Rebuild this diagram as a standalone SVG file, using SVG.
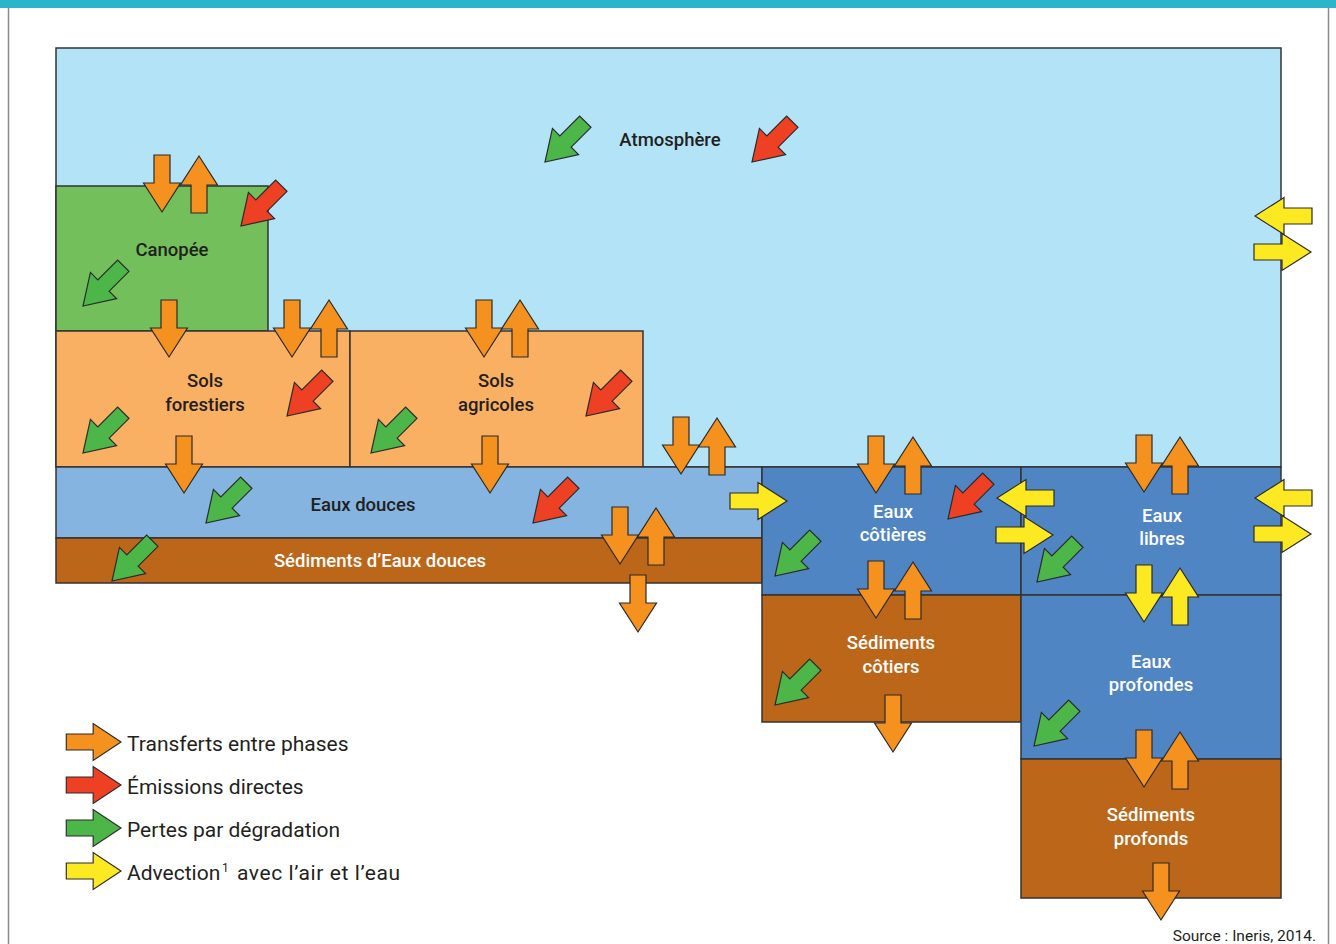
<svg xmlns="http://www.w3.org/2000/svg" xmlns:xlink="http://www.w3.org/1999/xlink" width="1336" height="944" viewBox="0 0 1336 944">
<style>
.box{stroke:#333;stroke-width:1.5}
.atm{fill:#b3e3f7}
.can{fill:#72bf5b}
.sol{fill:#f9b062}
.ed{fill:#84b4df}
.sed{fill:#bc6619}
.mer{fill:#5085c3}
.o{fill:#f5911e}
.r{fill:#ee4023}
.g{fill:#4cb748}
.y{fill:#fce921}
use{stroke:#2b2b2b;stroke-width:1.2;stroke-linejoin:miter}
.lbl{font-family:Roboto,"Liberation Sans",sans-serif;font-weight:500;font-size:18.5px;text-anchor:middle;fill:#231f20}
.w{fill:#ffffff}
.leg{font-family:Roboto,"Liberation Sans",sans-serif;font-size:21px;fill:#231f20}
.src{font-family:Roboto,"Liberation Sans",sans-serif;font-size:15.5px;fill:#231f20;text-anchor:end}
</style>
<defs>
<path id="a" d="M-57,-8H-29V-18.5L0,0L-29,18.5V8H-57Z"/>
</defs>
<rect x="0" y="0" width="1336" height="944" fill="#ffffff"/>
<rect x="0" y="0" width="1336" height="8" fill="#2bb5c9"/>
<line x1="8.5" y1="8" x2="8.5" y2="944" stroke="#8a8a8a" stroke-width="1.5"/>
<line x1="1328.5" y1="8" x2="1328.5" y2="944" stroke="#8a8a8a" stroke-width="1.5"/>

<g id="atmosphere"><rect class="box atm" x="56" y="48" width="1225" height="419"/><text class="lbl" x="670" y="146">Atmosphère</text></g>
<g id="canopee"><rect class="box can" x="56" y="186" width="212" height="145"/><text class="lbl" x="172" y="256">Canopée</text></g>
<g id="sols-forestiers"><rect class="box sol" x="56" y="331" width="294" height="136"/><text class="lbl" x="205" y="387">Sols</text><text class="lbl" x="205" y="411">forestiers</text></g>
<g id="sols-agricoles"><rect class="box sol" x="350" y="331" width="293" height="136"/><text class="lbl" x="496" y="387">Sols</text><text class="lbl" x="496" y="411">agricoles</text></g>
<g id="eaux-douces"><rect class="box ed" x="56" y="467" width="706" height="71"/><text class="lbl" x="363" y="511">Eaux douces</text></g>
<g id="sediments-eaux-douces"><rect class="box sed" x="56" y="538" width="706" height="45"/><text class="lbl w" x="380" y="567">Sédiments d’Eaux douces</text></g>
<g id="eaux-cotieres"><rect class="box mer" x="762" y="467" width="259" height="128"/><text class="lbl w" x="893" y="518">Eaux</text><text class="lbl w" x="893" y="541">côtières</text></g>
<g id="sediments-cotiers"><rect class="box sed" x="762" y="595" width="259" height="127"/><text class="lbl w" x="891" y="649">Sédiments</text><text class="lbl w" x="891" y="673">côtiers</text></g>
<g id="eaux-libres"><rect class="box mer" x="1021" y="467" width="260" height="128"/><text class="lbl w" x="1162" y="522">Eaux</text><text class="lbl w" x="1162" y="545">libres</text></g>
<g id="eaux-profondes"><rect class="box mer" x="1021" y="595" width="260" height="164"/><text class="lbl w" x="1151" y="668">Eaux</text><text class="lbl w" x="1151" y="691">profondes</text></g>
<g id="sediments-profonds"><rect class="box sed" x="1021" y="759" width="260" height="139"/><text class="lbl w" x="1151" y="821">Sédiments</text><text class="lbl w" x="1151" y="845">profonds</text></g>

<g id="connectors">
<use href="#a" class="g" transform="translate(545,162) rotate(135)"/>
<use href="#a" class="r" transform="translate(752,162) rotate(135)"/>
<use href="#a" class="o" transform="translate(162,212) rotate(90)"/>
<use href="#a" class="o" transform="translate(199,156) rotate(-90)"/>
<use href="#a" class="r" transform="translate(241,226) rotate(135)"/>
<use href="#a" class="g" transform="translate(83,306) rotate(135)"/>
<use href="#a" class="o" transform="translate(169,357) rotate(90)"/>
<use href="#a" class="o" transform="translate(292,357) rotate(90)"/>
<use href="#a" class="o" transform="translate(329,300) rotate(-90)"/>
<use href="#a" class="r" transform="translate(287,416) rotate(135)"/>
<use href="#a" class="g" transform="translate(83,453) rotate(135)"/>
<use href="#a" class="o" transform="translate(184,493) rotate(90)"/>
<use href="#a" class="o" transform="translate(484,357) rotate(90)"/>
<use href="#a" class="o" transform="translate(520,300) rotate(-90)"/>
<use href="#a" class="r" transform="translate(586,416) rotate(135)"/>
<use href="#a" class="g" transform="translate(371,453) rotate(135)"/>
<use href="#a" class="o" transform="translate(490,493) rotate(90)"/>
<use href="#a" class="o" transform="translate(681,474) rotate(90)"/>
<use href="#a" class="o" transform="translate(717,418) rotate(-90)"/>
<use href="#a" class="g" transform="translate(206,523) rotate(135)"/>
<use href="#a" class="r" transform="translate(533,523) rotate(135)"/>
<use href="#a" class="g" transform="translate(112,581) rotate(135)"/>
<use href="#a" class="o" transform="translate(620,564) rotate(90)"/>
<use href="#a" class="o" transform="translate(656,508) rotate(-90)"/>
<use href="#a" class="o" transform="translate(638,632) rotate(90)"/>
<use href="#a" class="y" transform="translate(787,501)"/>
<use href="#a" class="o" transform="translate(876,493) rotate(90)"/>
<use href="#a" class="o" transform="translate(913,437) rotate(-90)"/>
<use href="#a" class="r" transform="translate(948,519) rotate(135)"/>
<use href="#a" class="g" transform="translate(775,576) rotate(135)"/>
<use href="#a" class="y" transform="translate(997,498) rotate(180)"/>
<use href="#a" class="y" transform="translate(1053,535)"/>
<use href="#a" class="o" transform="translate(876,618) rotate(90)"/>
<use href="#a" class="o" transform="translate(913,562) rotate(-90)"/>
<use href="#a" class="g" transform="translate(775,705) rotate(135)"/>
<use href="#a" class="o" transform="translate(893,752) rotate(90)"/>
<use href="#a" class="o" transform="translate(1144,492) rotate(90)"/>
<use href="#a" class="o" transform="translate(1180,437) rotate(-90)"/>
<use href="#a" class="y" transform="translate(1255,498) rotate(180)"/>
<use href="#a" class="y" transform="translate(1311,534)"/>
<use href="#a" class="g" transform="translate(1037,582) rotate(135)"/>
<use href="#a" class="y" transform="translate(1144,622) rotate(90)"/>
<use href="#a" class="y" transform="translate(1180,568) rotate(-90)"/>
<use href="#a" class="y" transform="translate(1255,216) rotate(180)"/>
<use href="#a" class="y" transform="translate(1311,252)"/>
<use href="#a" class="g" transform="translate(1034,746) rotate(135)"/>
<use href="#a" class="o" transform="translate(1144,787) rotate(90)"/>
<use href="#a" class="o" transform="translate(1180,732) rotate(-90)"/>
<use href="#a" class="o" transform="translate(1161,920) rotate(90)"/>
</g>

<g id="legend">
<use href="#a" class="o" transform="translate(121,742) scale(0.96,1)"/>
<use href="#a" class="r" transform="translate(121,785) scale(0.96,1)"/>
<use href="#a" class="g" transform="translate(121,828) scale(0.96,1)"/>
<use href="#a" class="y" transform="translate(121,871) scale(0.96,1)"/>
<text class="leg" x="127" y="751">Transferts entre phases</text>
<text class="leg" x="127" y="794">Émissions directes</text>
<text class="leg" x="127" y="837">Pertes par dégradation</text>
<text class="leg" x="127" y="880">Advection<tspan font-size="12" x="222" dy="-8">1</tspan><tspan x="237" dy="8" textLength="163" lengthAdjust="spacing">avec l’air et l’eau</tspan></text>
</g>
<text class="src" x="1316" y="941">Source : Ineris, 2014.</text>
</svg>
